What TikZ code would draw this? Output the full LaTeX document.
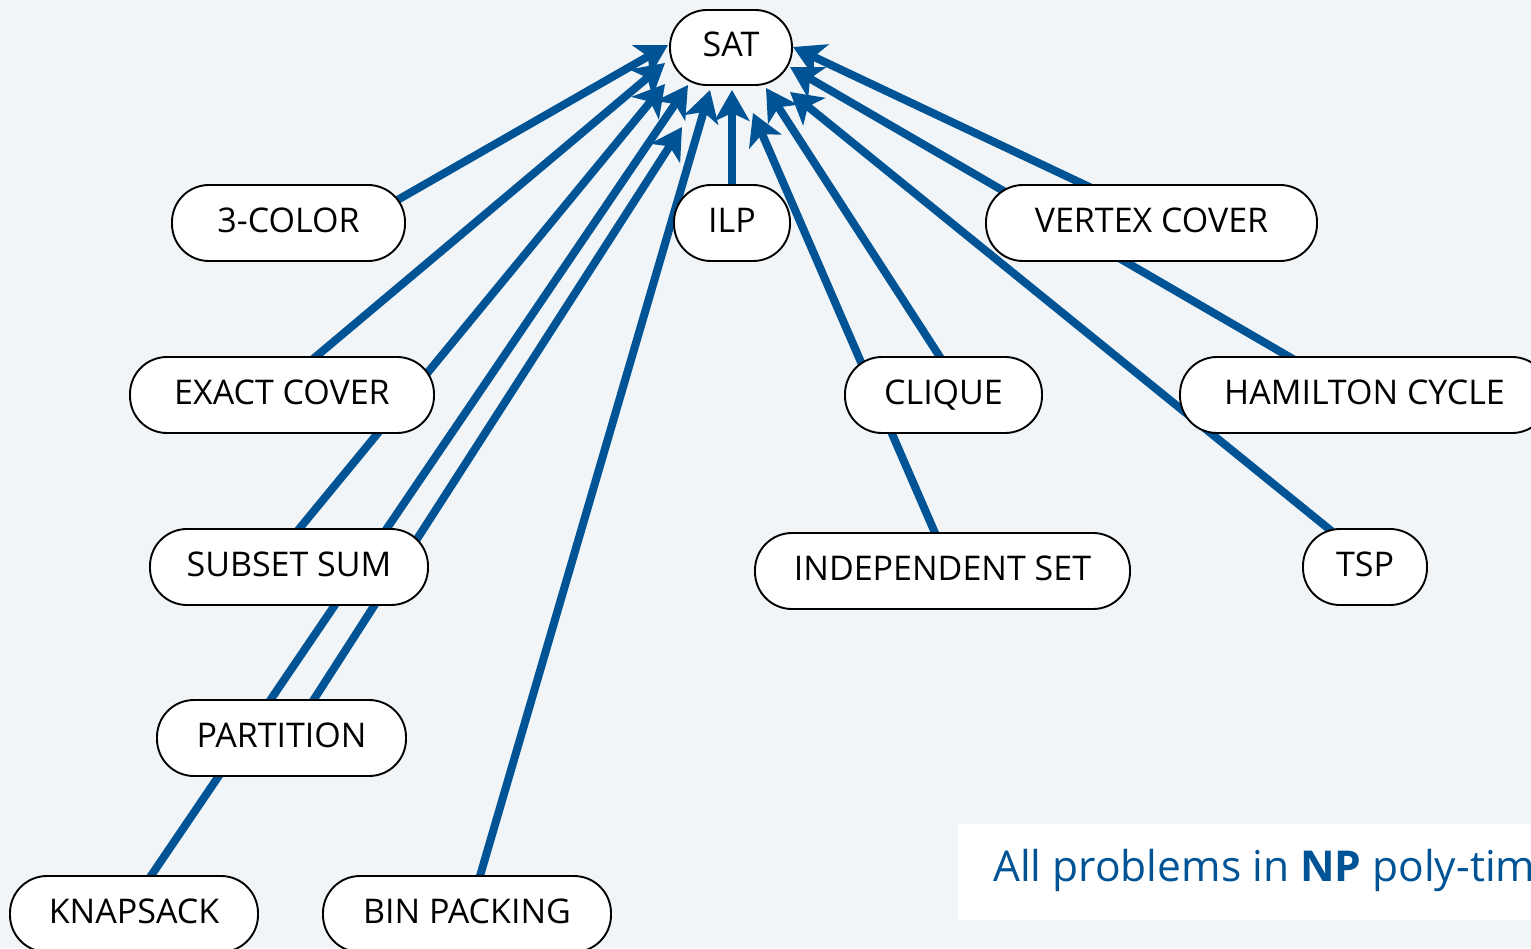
\documentclass[tikz,border=0pt]{standalone}
\usepackage{fontspec}
\setmainfont{Open Sans}
\usetikzlibrary{arrows.meta,calc}
\pgfdeclarelayer{background}
\pgfsetlayers{background,main}
\definecolor{bgc}{RGB}{241,245,248}
\definecolor{npblue}{RGB}{0,84,150}
\begin{document}
\begin{tikzpicture}[x=1pt,y=-1pt,
  prob/.style={draw=black, line width=1.9pt, fill=white, rounded corners=37pt,
    minimum height=76pt, inner sep=0pt, text height=24pt, text depth=6pt,
    font=\fontsize{34}{40}\selectfont},
  redu/.style={draw=npblue, line width=8pt,
    -{Stealth[length=31pt 0, width=35pt 0, inset=8pt 0]}}]
\useasboundingbox (0,0) rectangle (1531,948);
% nodes
\node[prob, minimum width=122pt, minimum height=75pt] (sat) at (731,47.5) {SAT};
\node[prob, minimum width=233pt] (col) at (288.5,223) {3-COLOR};
\node[prob, minimum width=116pt] (ilp) at (732,223) {ILP};
\node[prob, minimum width=331pt] (vc) at (1151.5,223) {VERTEX COVER};
\node[prob, minimum width=304pt] (ec) at (282,395) {EXACT COVER};
\node[prob, minimum width=197pt] (cl) at (943.5,395) {CLIQUE};
\node[prob, minimum width=369pt] (hc) at (1364.5,395) {HAMILTON CYCLE};
\node[prob, minimum width=278pt] (ss) at (289,567) {SUBSET SUM};
\node[prob, minimum width=375pt] (is) at (942.5,571) {INDEPENDENT SET};
\node[prob, minimum width=124pt] (tsp) at (1365,567) {TSP};
\node[prob, minimum width=249pt] (pa) at (281.5,738) {PARTITION};
\node[prob, minimum width=248pt] (ks) at (134,914) {KNAPSACK};
\node[prob, minimum width=288pt] (bp) at (467,914) {BIN PACKING};
% note box
\node[fill=white, anchor=north west, minimum width=640pt, minimum height=96pt, inner sep=0pt] (note) at (958,824) {};
\node[anchor=base west, inner sep=0pt, text=npblue, font=\fontsize{42.5}{50}\selectfont]
  (notetext) at ([shift={(35,9)}]note.west) {All problems in \textbf{NP} poly-time};
% edges behind nodes
\begin{pgfonlayer}{background}
\fill[bgc] (0,0) rectangle (1531,948);
\draw[redu] ([shift={(91.5,-13)}]col.center) -- ([shift={(-63,-2.5)}]sat.center);
\draw[redu] ([shift={(18,-25)}]ec.center) -- ([shift={(-66,15.5)}]sat.center);
\draw[redu] ([shift={(1,-27)}]ss.center) -- ([shift={(-66,36.5)}]sat.center);
\draw[redu] ([shift={(6,-22)}]ks.center) -- ([shift={(-43,37.5)}]sat.center);
\draw[redu] ([shift={(18.5,-17)}]pa.center) -- ([shift={(-49,79.5)}]sat.center);
\draw[redu] ([shift={(8,-21)}]bp.center) -- ([shift={(-21,42.5)}]sat.center);
\draw[redu] ([shift={(0,-23)}]ilp.center) -- ([shift={(1,42.5)}]sat.center);
\draw[redu] ([shift={(-2.5,-26.5)}]is.center) -- ([shift={(22,65.5)}]sat.center);
\draw[redu] ([shift={(6.5,-22.5)}]cl.center) -- ([shift={(35,40.5)}]sat.center);
\draw[redu] ([shift={(-20,-25)}]tsp.center) -- ([shift={(59,44.5)}]sat.center);
\draw[redu] ([shift={(-59.5,-29)}]hc.center) -- ([shift={(59,19.5)}]sat.center);
\draw[redu] ([shift={(-51.5,-31)}]vc.center) -- ([shift={(62,-0.5)}]sat.center);
\end{pgfonlayer}
\end{tikzpicture}
\end{document}
